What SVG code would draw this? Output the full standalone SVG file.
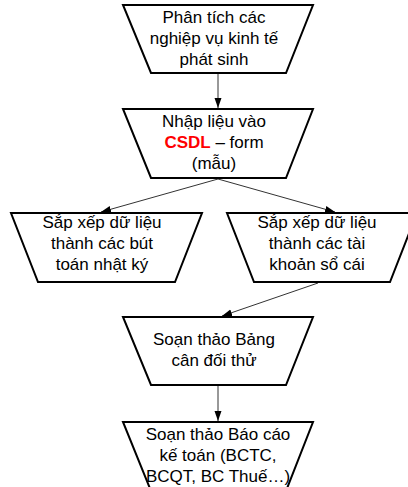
<svg xmlns="http://www.w3.org/2000/svg" width="408" height="487" viewBox="0 0 408 487">
  <style>
    .box { fill: #ffffff; stroke: #000000; stroke-width: 2; stroke-linejoin: miter; }
    .lbl { font-family: "Liberation Sans", Arial, sans-serif; font-size: 17px; fill: #000000; text-anchor: middle; }
    .red { fill: #ff0000; font-weight: bold; }
    .link { stroke: #333333; stroke-width: 1; fill: none; marker-end: url(#arrow); }
  </style>
  <defs>
    <marker id="arrow" viewBox="0 0 10 10" refX="10" refY="5" markerWidth="10" markerHeight="10" markerUnits="userSpaceOnUse" orient="auto">
      <path d="M0,1.5 L10,5 L0,8.5 Z" fill="#000000"/>
    </marker>
  </defs>
  <rect width="408" height="487" fill="#ffffff"/>

  <g id="connectors">
    <line class="link" x1="218" y1="74" x2="218" y2="108"/>
    <line class="link" x1="218" y1="179" x2="101" y2="212"/>
    <line class="link" x1="218" y1="179" x2="335" y2="212"/>
    <line class="link" x1="318" y1="283" x2="222" y2="316"/>
    <line class="link" x1="218" y1="386" x2="218" y2="421"/>
  </g>

  <g id="analyse">
    <polygon class="box" points="123,5 313,5 286,73 151,73"/>
    <text class="lbl" x="214" y="23">Phân tích các</text>
    <text class="lbl" x="214" y="44">nghiệp vụ kinh tế</text>
    <text class="lbl" x="214" y="65">phát sinh</text>
  </g>

  <g id="input">
    <polygon class="box" points="123,109 313,109 286,178 151,178"/>
    <text class="lbl" x="214" y="127">Nhập liệu vào</text>
    <text class="lbl" x="214" y="148"><tspan class="red">CSDL</tspan> – form</text>
    <text class="lbl" x="214" y="169">(mẫu)</text>
  </g>

  <g id="journal">
    <polygon class="box" points="11,213 202,213 175,282 38,282"/>
    <text class="lbl" x="102" y="228">Sắp xếp dữ liệu</text>
    <text class="lbl" x="102" y="249">thành các bút</text>
    <text class="lbl" x="102" y="270">toán nhật ký</text>
  </g>

  <g id="ledger">
    <polygon class="box" points="227,213 417,213 390,282 254,282"/>
    <text class="lbl" x="317" y="228">Sắp xếp dữ liệu</text>
    <text class="lbl" x="317" y="249">thành các tài</text>
    <text class="lbl" x="317" y="270">khoản sổ cái</text>
  </g>

  <g id="trial-balance">
    <polygon class="box" points="123,317 313,317 286,385 151,385"/>
    <text class="lbl" x="214" y="345">Soạn thảo Bảng</text>
    <text class="lbl" x="214" y="366">cân đối thử</text>
  </g>

  <g id="reports">
    <polygon class="box" points="123,422 313,422 286,491 151,491"/>
    <text class="lbl" x="218" y="440">Soạn thảo Báo cáo</text>
    <text class="lbl" x="218" y="461">kế toán (BCTC,</text>
    <text class="lbl" x="218" y="482">BCQT, BC Thuế…)</text>
  </g>
</svg>
